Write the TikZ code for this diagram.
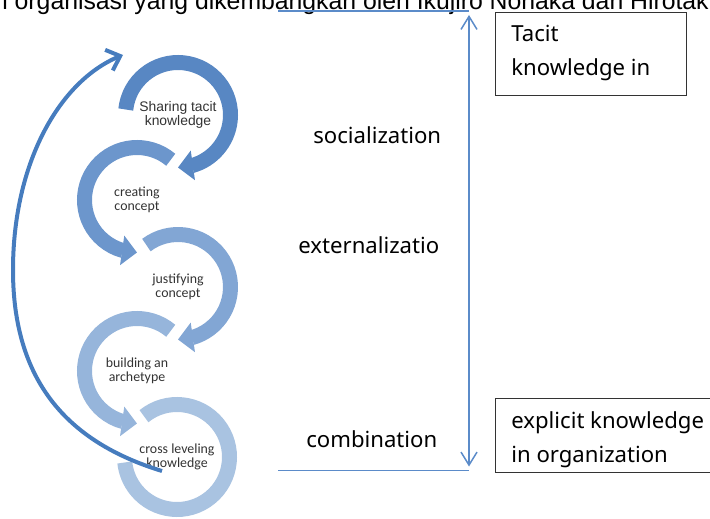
\documentclass[tikz,border=0pt]{standalone}
\usepackage{fontspec}
\setmainfont{Noto Sans}
\newfontfamily\arialfont{Liberation Sans}
\newfontfamily\calibrifont{Carlito}
\usetikzlibrary{arrows.meta,bending}
\definecolor{ringone}{RGB}{88,135,195}
\definecolor{ringtwo}{RGB}{108,150,204}
\definecolor{ringthree}{RGB}{130,166,212}
\definecolor{ringfour}{RGB}{150,181,219}
\definecolor{ringfive}{RGB}{169,195,225}
\definecolor{loopblue}{RGB}{70,124,190}
\definecolor{lineblue}{RGB}{91,139,201}

\begin{document}
\begin{tikzpicture}[x=0.02cm,y=0.02cm,
  ring/.style={line width=0.3cm},
  ringtip/.style={-{Triangle[width=0.58cm,length=0.3cm]}},
  steplabel/.style={font=\calibrifont\fontsize{7.9}{8.3}\selectfont,align=center,text=black!80},
  modelabel/.style={font=\fontsize{12.6}{14}\selectfont,anchor=base west,inner sep=0},
  bluerule/.style={lineblue,line width=0.85pt},
  modebox/.style={draw=black!80,line width=0.6pt,anchor=north west,inner sep=0},
  cyclearrow/.style={loopblue,line width=0.08cm,-{Straight Barb[length=0.24cm,width=0.44cm]}}]
\clip (0,0) rectangle (710,518);
% line of text cut off at the top
\node[anchor=base west,inner sep=0,font=\arialfont\fontsize{14.1}{16}\selectfont] (heading) at (2,508) {i organisasi yang dikembangkan oleh Ikujiro Nonaka dan Hirotak};

% the five steps
\node[steplabel,font=\arialfont\fontsize{7.9}{7.9}\selectfont] (sharing) at (178,403) {Sharing tacit\\knowledge};
\node[steplabel] (creating) at (137,318) {creating\\concept};
\node[steplabel] (justifying) at (178,231) {justifying\\concept};
\node[steplabel] (building) at (137,147) {building an\\archetype};
\node[steplabel] (crossing) at (177,61) {cross leveling\\knowledge};

\draw[ring,ringone,ringtip] (sharing.center) ++(174:52.5) arc[start angle=174,end angle=-90,radius=52.5];
\draw[ring,ringtwo,ringtip] (creating.center) ++(50:52.5) arc[start angle=50,end angle=270,radius=52.5];
\draw[ring,ringthree,ringtip] (justifying.center) ++(127:52.5) arc[start angle=127,end angle=-90,radius=52.5];
\draw[ring,ringfour,ringtip] (building.center) ++(50:52.5) arc[start angle=50,end angle=270,radius=52.5];
\draw[ring,ringfive] (crossing.center) ++(129:52.5) arc[start angle=129,end angle=-174,radius=52.5];

% back to the start
\coordinate (loopstart) at (162,47);
\coordinate (loopleft) at (13,248);
\coordinate (loopend) at (123,463);
\draw[cyclearrow] (loopstart) .. controls +(163:100) and +(0,-110) .. (loopleft)
  .. controls +(0,110) and +(200:65) .. (loopend);

% modes
\node[modelabel] (socia) at (313,374) {socialization};
\node[modelabel] (exter) at (298,265) {externalizatio};
\node[modelabel] (combi) at (306,71) {combination};

\coordinate (toplft) at (278,507);
\coordinate (toprgt) at (469,507);
\coordinate (botlft) at (278,47.5);
\coordinate (botrgt) at (469,47.5);
\draw[bluerule] (toplft) -- (toprgt);
\draw[bluerule] (botlft) -- (botrgt);
\draw[bluerule,{Straight Barb[length=0.26cm,width=0.32cm]}-{Straight Barb[length=0.26cm,width=0.32cm]},
  shorten <=0.08cm,shorten >=0.08cm] (toprgt) -- (botrgt);

% boxes
\node[modebox,minimum width=3.82cm,minimum height=1.66cm] (tacitbox) at (495,506) {};
\node[modelabel] (tacitone) at (511,476) {Tacit};
\node[modelabel] (tacittwo) at (511,442) {knowledge in};
\node[modebox,minimum width=4.4cm,minimum height=1.48cm] (explbox) at (495,120) {};
\node[modelabel] (explone) at (511,90) {explicit knowledge};
\node[modelabel] (expltwo) at (511,56) {in organization};
\end{tikzpicture}
\end{document}
